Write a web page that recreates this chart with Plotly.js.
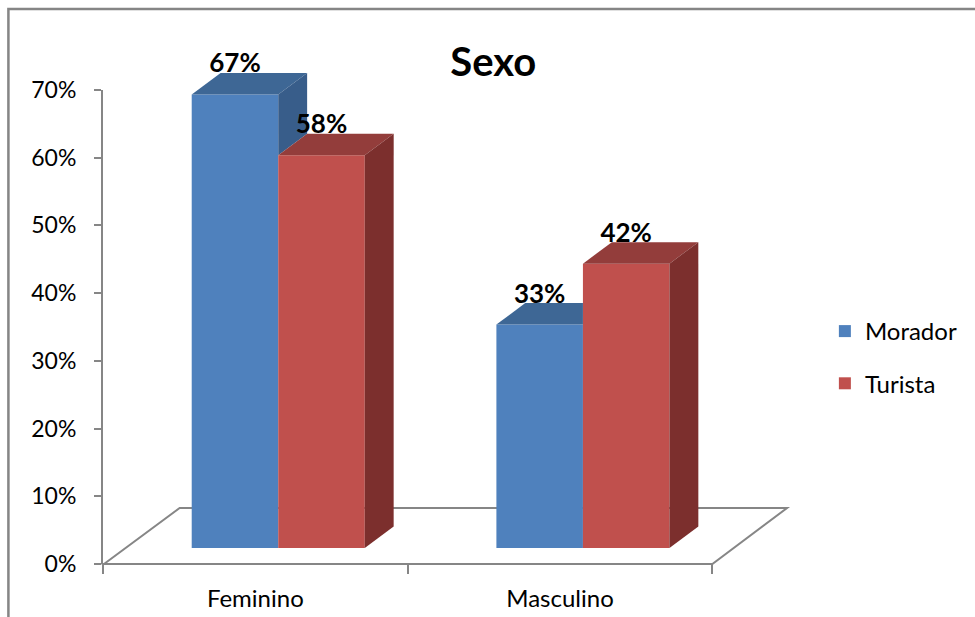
<!DOCTYPE html>
<html>
<head>
<meta charset="utf-8">
<script src="https://cdn.plot.ly/plotly-3.0.1.min.js"></script>
<style>html,body{margin:0;padding:0;background:#fff;}#chart{width:975px;height:617px;}</style>
</head>
<body>
<div id="chart"></div>
<script>
// ---- data ----
const categories = ['Feminino', 'Masculino'];
const seriesNames = ['Morador', 'Turista'];
const morador = [0.67, 0.33];
const turista = [0.58, 0.42];
const yTickVals = [0, 0.1, 0.2, 0.3, 0.4, 0.5, 0.6, 0.7];
const chartTitle = 'Sexo';

// ---- style ----
const FONT = 'Lato, "Open Sans", sans-serif';
const frontColors = ['#4F81BD', '#C0504D'];
const topColors = ['#3E6795', '#933D3B'];
const sideColors = ['#385D8A', '#7C2F2D'];
const gray = '#868686';
const barW = 0.284;     // bar width in category units
const dx = 0.0948;      // depth offset x (category units)
const dy = 0.0318;      // depth offset y (value units)
const labelShift = -0.009; // small downward nudge of value labels (value units)

const series = [morador, turista];
const catPos = categories.map((c, i) => i);
const traces = [];

// front faces: real bar traces
series.forEach((vals, s) => {
  traces.push({
    type: 'bar', name: seriesNames[s], x: catPos, y: vals,
    width: barW, offset: s === 0 ? -barW : 0,
    marker: {color: frontColors[s], line: {width: 0}},
    legendgroup: 'g' + s, hoverinfo: 'skip', xaxis: 'x', yaxis: 'y'
  });
});

function poly(xs, ys, color) {
  traces.push({type: 'scatter', mode: 'lines', x: xs, y: ys, fill: 'toself',
    fillcolor: color, line: {width: 0, color: color}, showlegend: false,
    hoverinfo: 'skip', xaxis: 'x', yaxis: 'y'});
}
function clamp(a, lo, hi) { return Math.max(lo, Math.min(hi, a)); }

catPos.forEach((c, i) => {
  // Morador (left) – parts hidden behind Turista box are cut away
  const vm = morador[i], vt = turista[i];
  const x0 = c - barW, x1 = c;
  const p3y = clamp(vt, vm, vm + dy);
  const p4x = x1 + clamp(vm + dy - vt, 0, dy) * dx / dy;
  poly([x0, x1, x1, p4x, x0 + dx, x0], [vm, vm, p3y, vm + dy, vm + dy, vm], topColors[0]);
  const low = Math.min(vm, vt);
  if (vm > vt) poly([x1, x1, x1 + dx, x1 + dx, x1], [low, vm, vm + dy, low + dy, low], sideColors[0]);
  // Turista (right) – fully visible
  const t0 = c, t1 = c + barW;
  poly([t0, t1, t1 + dx, t0 + dx, t0], [vt, vt, vt + dy, vt + dy, vt], topColors[1]);
  poly([t1, t1, t1 + dx, t1 + dx, t1], [0, vt, vt + dy, dy, 0], sideColors[1]);
});

// data labels
series.forEach((vals, s) => {
  traces.push({type: 'scatter', mode: 'text',
    x: catPos.map(c => s === 0 ? c - barW / 2 : c + barW / 2),
    y: vals.map(v => v + dy + labelShift),
    text: vals.map(v => Math.round(v * 100) + '%'),
    textposition: 'top center',
    textfont: {family: FONT, size: 26, color: '#000', weight: 'bold'},
    showlegend: false, hoverinfo: 'skip', cliponaxis: false, xaxis: 'x', yaxis: 'y'});
});

// dummy trace for category label axis
traces.push({type: 'scatter', mode: 'markers', x: categories, y: [0, 0],
  marker: {opacity: 0}, showlegend: false, hoverinfo: 'skip', xaxis: 'x2', yaxis: 'y2'});

// geometry (pixels -> paper) helpers
const L = 103, R = 175, T = 50, B = 45, W = 975 - L - R, H = 617 - T - B;
const px = v => (v - L) / W, py = v => (617 - B - v) / H;

const layout = {
  width: 975, height: 617,
  margin: {l: L, r: R, t: T, b: B},
  paper_bgcolor: '#fff', plot_bgcolor: 'rgba(0,0,0,0)',
  barmode: 'overlay',
  font: {family: FONT, size: 23, color: '#000'},
  title: {text: '<b>' + chartTitle + '</b>', font: {family: FONT, size: 40, color: '#000'},
    x: px(495), xref: 'paper', xanchor: 'center', y: 1 - 62 / 617, yanchor: 'middle'},
  xaxis: {domain: [0, 1], range: [-176 / 306, 521 / 306], visible: false, fixedrange: true},
  yaxis: {domain: [0, 1], range: [-(24 / 677), 498 / 677], visible: false, fixedrange: true},
  xaxis2: {type: 'category', domain: [0, 1], anchor: 'y2', range: [-0.5, 1.7778],
    categoryarray: categories, tickson: 'boundaries', ticks: 'outside', ticklen: 9,
    tickwidth: 2, tickcolor: gray, showline: false, showgrid: false, zeroline: false,
    tickfont: {family: FONT, size: 24, color: '#000'}, ticklabelstandoff: 18},
  yaxis2: {domain: [py(564), py(90)], anchor: 'x2', range: [0, 0.7],
    tickvals: yTickVals, tickformat: '.0%', ticks: 'outside', ticklen: 7, tickwidth: 2,
    tickcolor: gray, showline: true, linecolor: gray, linewidth: 2, showgrid: false,
    zeroline: false, tickfont: {family: FONT, size: 23, color: '#000'}, ticklabelstandoff: 13},
  legend: {x: px(828), xanchor: 'left', y: py(357.5), yanchor: 'middle',
    font: {family: FONT, size: 24, color: '#000'}, traceorder: 'grouped', tracegroupgap: 18,
    bgcolor: 'rgba(0,0,0,0)'},
  shapes: [
    {type: 'path', xref: 'paper', yref: 'paper', layer: 'below',
     path: `M${px(104)},${py(564)} L${px(180)},${py(508)} L${px(790)},${py(508)} L${px(715)},${py(564)} Z`,
     line: {color: gray, width: 2}},
    {type: 'line', xref: 'paper', yref: 'paper', x0: px(103), x1: px(715), y0: py(564), y1: py(564),
     line: {color: gray, width: 2}},
    {type: 'rect', xref: 'paper', yref: 'paper', x0: px(8), x1: px(1100), y0: py(9), y1: py(700),
     line: {color: '#858585', width: 2.5}, layer: 'below'}
  ],
  showlegend: true
};

Plotly.newPlot('chart', traces, layout, {staticPlot: true, displayModeBar: false});
</script>
</body>
</html>
